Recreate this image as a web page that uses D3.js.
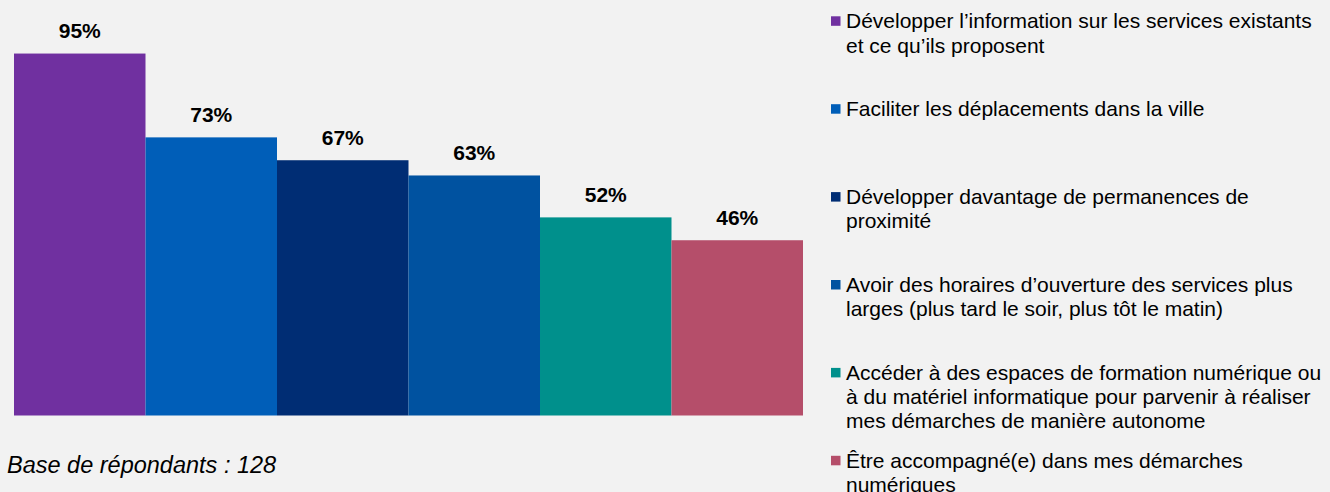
<!DOCTYPE html>
<html lang="fr">
<head>
<meta charset="utf-8">
<script src="https://cdn.jsdelivr.net/npm/d3@7"></script>
<style>
  html, body { margin: 0; padding: 0; background: #F2F2F2; }
  svg { display: block; font-family: Arial, "Liberation Sans", sans-serif; }
</style>
</head>
<body>
<svg id="chart" width="1330" height="492"></svg>
<script>
// Answers (each entry is a list of legend lines)
const categories = [
  ["Développer l’information sur les services existants", "et ce qu’ils proposent"],
  ["Faciliter les déplacements dans la ville"],
  ["Développer davantage de permanences de", "proximité"],
  ["Avoir des horaires d’ouverture des services plus", "larges (plus tard le soir, plus tôt le matin)"],
  ["Accéder à des espaces de formation numérique ou", "à du matériel informatique pour parvenir à réaliser", "mes démarches de manière autonome"],
  ["Être accompagné(e) dans mes démarches", "numériques"]
];
// Share of respondents (%)
const values = [95, 73, 67, 63, 52, 46];
const colors = ["#7030A0", "#005EB8", "#002D74", "#0052A0", "#00908C", "#B54E6A"];
const baseNote = "Base de répondants : 128";

const svg = d3.select("#chart");
const keys = categories.map((c, i) => i);

const x = d3.scaleBand().domain(keys).range([14, 803]).padding(0);
const y = d3.scaleLinear().domain([0, 100]).range([415.5, 34.5]);

// Bars
svg.append("g").selectAll("rect")
  .data(values)
  .join("rect")
  .attr("x", (d, i) => x(i))
  .attr("y", d => y(d))
  .attr("width", x.bandwidth())
  .attr("height", d => y(0) - y(d))
  .attr("fill", (d, i) => colors[i]);

// Value labels
svg.append("g").selectAll("text")
  .data(values)
  .join("text")
  .attr("x", (d, i) => x(i) + x.bandwidth() / 2)
  .attr("y", d => y(d) - 15.5)
  .attr("text-anchor", "middle")
  .attr("font-size", 21)
  .attr("font-weight", "bold")
  .attr("fill", "#000")
  .text(d => d + "%");

// Legend
const legendStep = 87.9, lineH = 24.3;
const legend = svg.append("g").selectAll("g")
  .data(categories)
  .join("g")
  .attr("transform", (d, i) => `translate(0, ${28.3 + i * legendStep})`);

legend.append("rect")
  .attr("x", 831)
  .attr("y", -12)
  .attr("width", 9.5)
  .attr("height", 9.5)
  .attr("fill", (d, i) => colors[i]);

legend.append("text")
  .attr("x", 846)
  .attr("font-size", 21)
  .attr("fill", "#000")
  .selectAll("tspan")
  .data(d => d)
  .join("tspan")
  .attr("x", 846)
  .attr("y", (d, j) => j * lineH)
  .text(d => d);

// Respondent base note
svg.append("text")
  .attr("x", 7)
  .attr("y", 473)
  .attr("font-size", 23.5)
  .attr("font-style", "italic")
  .attr("fill", "#000")
  .text(baseNote);
</script>
</body>
</html>
